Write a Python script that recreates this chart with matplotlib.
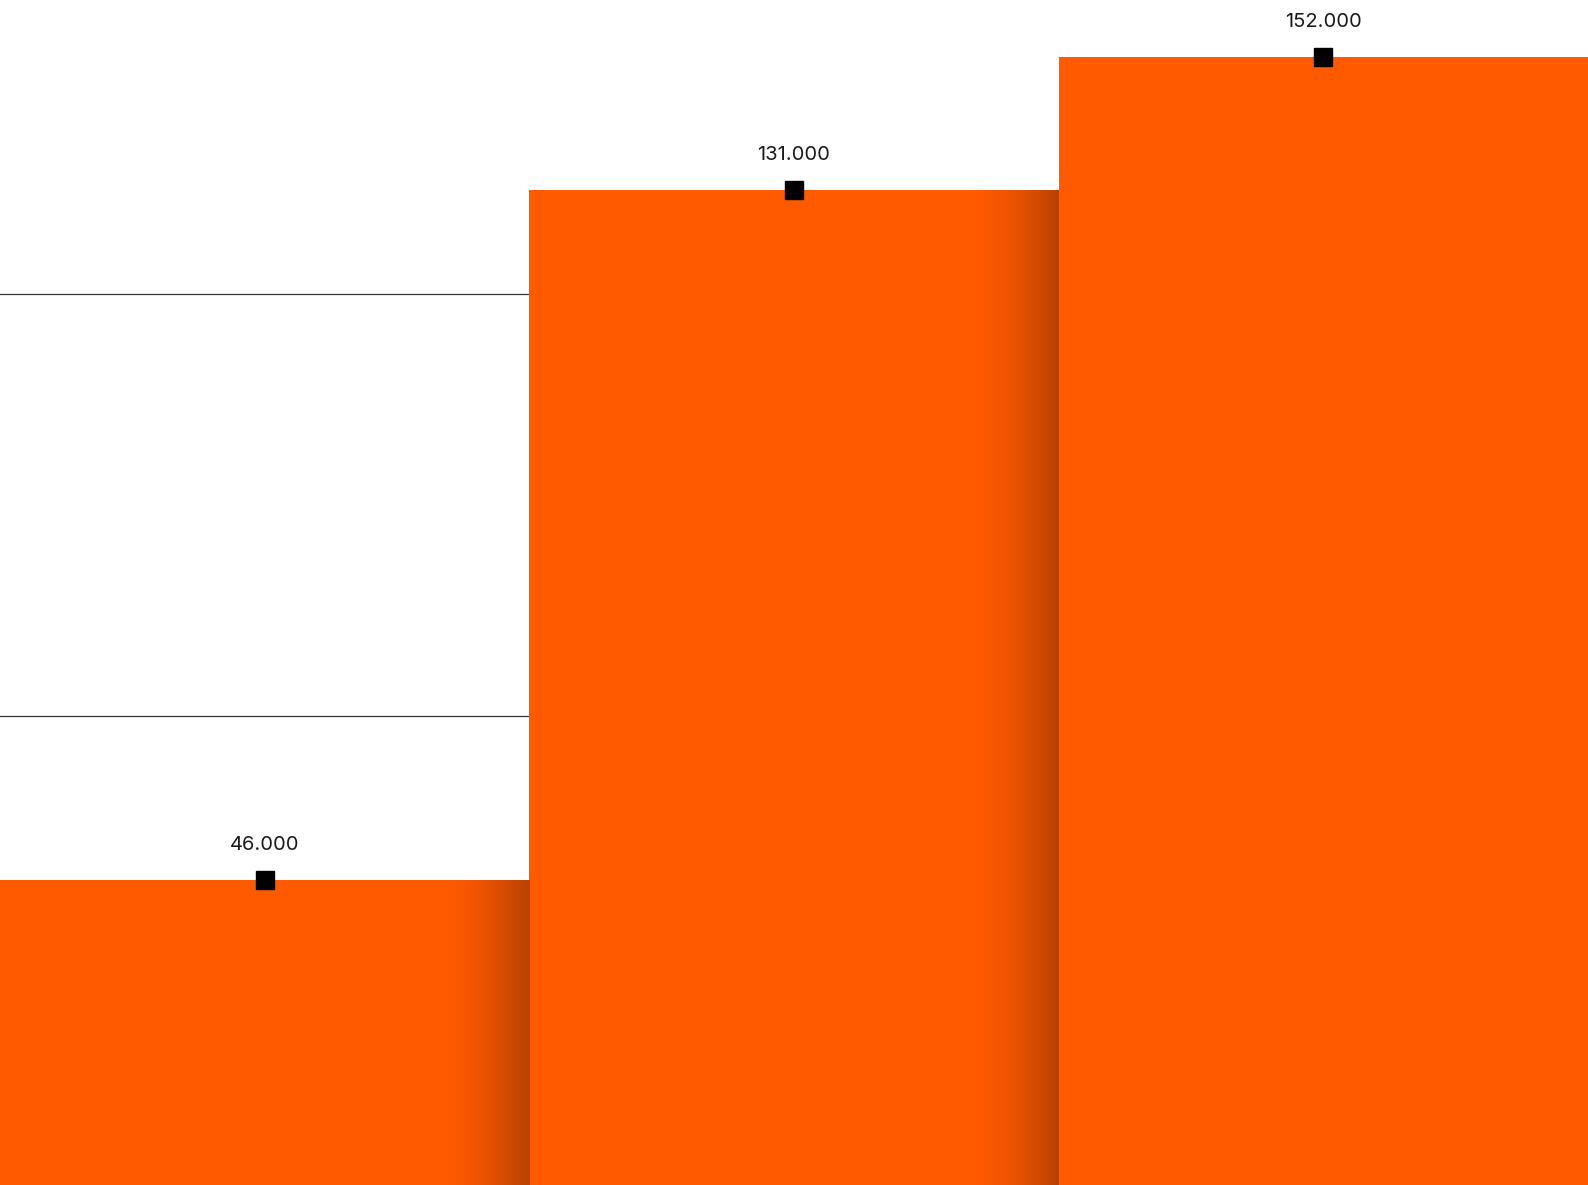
import matplotlib.pyplot as plt
import matplotlib.colors as mcolors
import numpy as np

# data
categories = ['A', 'B', 'C']
values = [46000, 131000, 152000]
value_labels = ['46.000', '131.000', '152.000']
grid_values = [62500, 115500]

POWER = 0.53
ORANGE = '#FF5A00'


def fwd(v):
    return np.power(np.clip(v, 0, None), POWER)


def inv(v):
    return np.power(np.clip(v, 0, None), 1.0 / POWER)


fig = plt.figure(figsize=(15.88, 11.85), dpi=100)
ax = fig.add_axes([0, 0, 1, 1])
ax.set_yscale('function', functions=(fwd, inv))

x = np.arange(len(values))
ax.bar(x, values, width=1.0, color=ORANGE, zorder=2, linewidth=0)

for g in grid_values:
    ax.axhline(g, color='#333333', lw=0.9, zorder=1)

# soft shadow on the right edge of each bar that has a neighbour
base = np.array(mcolors.to_rgb(ORANGE))
shadow_w = 0.17
steps = 90
for i in range(len(values) - 1):
    edge = x[i] + 0.5
    for k in range(steps):
        x0 = edge - shadow_w + k * shadow_w / steps
        a = 0.28 * ((k + 1) / steps) ** 1.7
        ax.bar(x0, values[i], width=shadow_w / steps * 1.5, align='edge',
               color=base * (1 - a), linewidth=0, zorder=3 + k * 0.001)

ax.plot(x, values, 's', color='black', ms=13, zorder=5, clip_on=False)

for xi, v, lbl in zip(x, values, value_labels):
    ax.annotate(lbl, (xi, v), xytext=(0, 25), textcoords='offset points',
                ha='center', va='center', fontsize=14.5, color='#1a1a1a',
                family=['Inter', 'DejaVu Sans'], zorder=6)

ax.set_xlim(-0.5, len(values) - 0.5)
ax.set_ylim(21760, 161400)
ax.axis('off')

fig.savefig('out.png', dpi=100)
